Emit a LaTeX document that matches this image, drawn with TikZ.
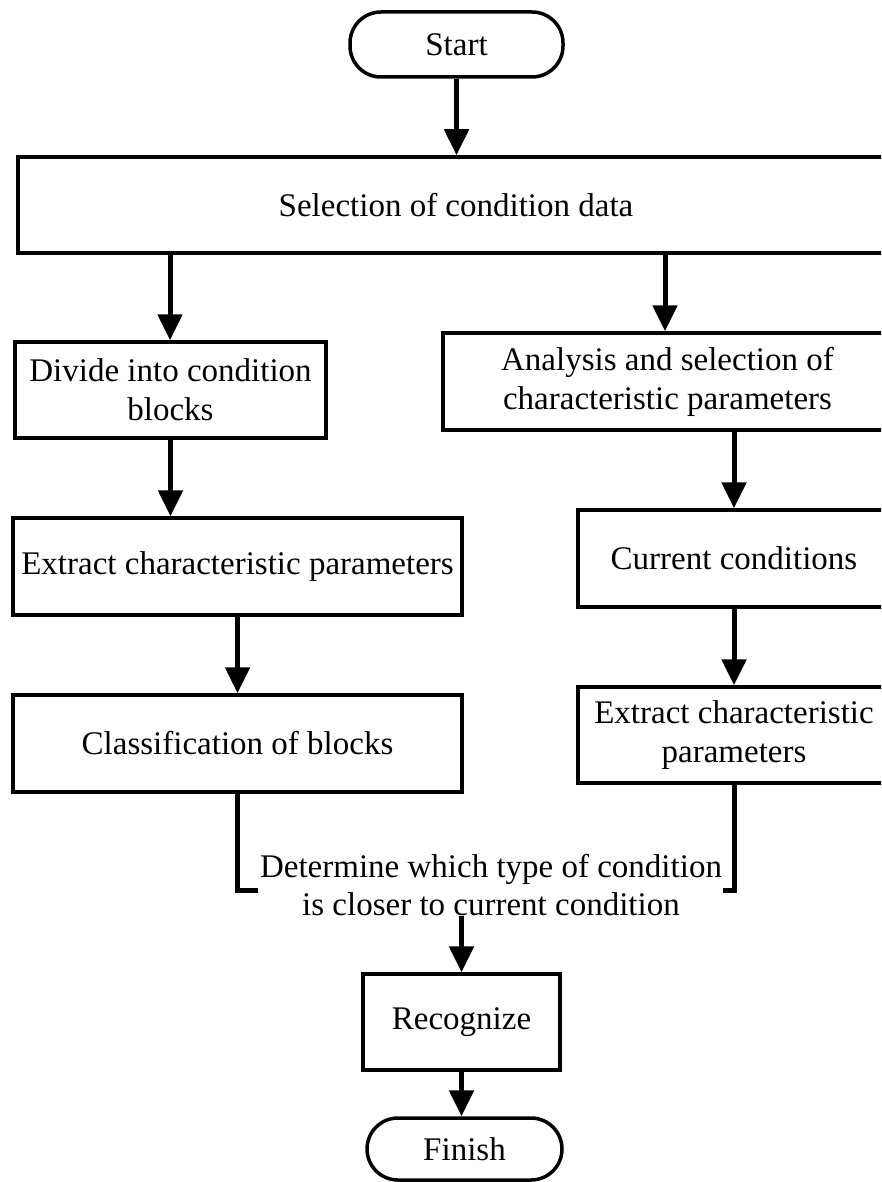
\documentclass[tikz,border=0pt]{standalone}
\usepackage{fontspec}
\setmainfont{Liberation Serif}
\usetikzlibrary{arrows.meta,calc}
\tikzset{
  box/.style={draw=black, line width=3.5pt, fill=white, align=center, inner sep=0pt, font=\fontsize{33}{39}\selectfont},
  term/.style={box, rounded corners=31pt},
  arr/.style={line width=5pt, -{Triangle[width=24pt,length=26pt]}},
  lnk/.style={line width=5pt},
}
\begin{document}
\begin{tikzpicture}[x=1pt,y=-1pt]
\useasboundingbox (0,0) rectangle (881,1182);
\clip (0,0) rectangle (881,1182);
\node[term, minimum width=213pt, minimum height=65pt] (start) at (456.5,44.5) {Start};
\node[box, minimum width=876pt, minimum height=96pt] (sel) at (456,205) {Selection of condition data};
\node[box, minimum width=311pt, minimum height=96pt] (l1) at (170.5,390) {Divide into condition\\blocks};
\node[box, minimum width=449pt, minimum height=97pt] (l2) at (237.5,566.5) {Extract characteristic parameters};
\node[box, minimum width=449pt, minimum height=97pt] (l3) at (237.5,743.5) {Classification of blocks};
\node[box, minimum width=449pt, minimum height=97pt] (r1) at (667.5,381.5) {Analysis and selection of\\characteristic parameters};
\node[box, minimum width=312pt, minimum height=97pt] (r2) at (734,558.5) {Current conditions};
\node[box, minimum width=312pt, minimum height=96pt] (r3) at (734,735) {Extract characteristic\\parameters};
\node[align=center, inner sep=0pt, font=\fontsize{33}{38}\selectfont] (det) at (491,885) {Determine which type of condition\\is closer to current condition};
\node[box, minimum width=197pt, minimum height=96pt] (rec) at (461.5,1022) {Recognize};
\node[term, minimum width=195pt, minimum height=62pt] (fin) at (464.5,1149) {Finish};
\coordinate (bl) at (258,890);
\coordinate (br) at (723,890);
\draw[arr] (start.south) -- (start.south |- sel.north);
\draw[arr] (170,253) -- (l1.north -| 170,0);
\draw[arr] (665,253) -- (r1.north -| 665,0);
\draw[arr] (l1.south) -- (l1.south |- l2.north);
\draw[arr] (r1.south -| r2.north) -- (r2.north);
\draw[arr] (l2.south) -- (l3.north);
\draw[arr] (r2.south) -- (r3.north);
\draw[lnk] (l3.south) |- (bl);
\draw[lnk] (r3.south) |- (br);
\draw[arr] (rec.north |- det.south) -- (rec.north);
\draw[arr] (rec.south) -- (rec.south |- fin.north);
\end{tikzpicture}
\end{document}
